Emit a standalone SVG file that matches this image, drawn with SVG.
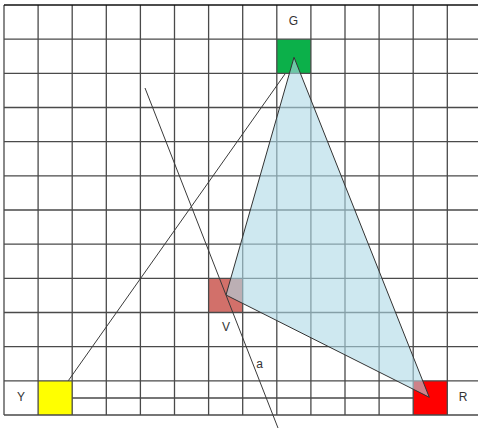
<svg xmlns="http://www.w3.org/2000/svg" width="478" height="428" viewBox="0 0 478 428">
<style>
.grid{fill:none;stroke:#4a4a4a;stroke-width:1.3}
.lbl{font-family:"Liberation Sans",Arial,sans-serif;font-size:12px;fill:#333;text-anchor:middle}
.conn{fill:none;stroke:#3a3a3a;stroke-width:1}
.sq{stroke:none}
</style>
<rect width="478" height="428" fill="#fff"/>
<g id="node-Y"><rect class="sq" x="38.1" y="380.9" width="34.1" height="34.1" fill="#ffff00"/><text class="lbl" x="21" y="401">Y</text></g>
<g id="node-G"><rect class="sq" x="276.8" y="39.2" width="34.1" height="34.2" fill="#0cb04a"/><text class="lbl" x="293.5" y="25">G</text></g>
<g id="node-V"><rect class="sq" x="208.6" y="278.4" width="34.1" height="34.1" fill="#d2706a"/><text class="lbl" x="226" y="331">V</text></g>
<g id="node-R"><rect class="sq" x="413.2" y="380.9" width="34.1" height="34.1" fill="#ff0000"/><text class="lbl" x="463" y="401">R</text></g>
<g id="grid">
<path class="grid" d="M4 5V415M38.1 5V415M72.2 5V415M106.3 5V415M140.4 5V415M174.5 5V415M208.6 5V415M242.7 5V415M276.8 5V415M310.9 5V415M345 5V415M379.1 5V415M413.2 5V415M447.3 5V415"/>
<path class="grid" d="M4 39.2H478M4 73.3H478M4 107.5H478M4 141.7H478M4 175.9H478M4 210H478M4 244.2H478M4 278.4H478M4 312.5H478M4 346.7H478M4 380.9H478M4 415H478M72.2 398H413.2"/>
<path d="M4 5H478" stroke="#111" stroke-width="1.3"/>
</g>
<g id="triangle"><polygon points="294,57.3 226,295 429.3,397.3" fill="#add8e6" fill-opacity="0.6" stroke="#333" stroke-width="1"/></g>
<g id="connectors">
<line class="conn" x1="68.3" y1="380.7" x2="285" y2="74"/>
<line class="conn" x1="145" y1="88" x2="278" y2="428"/>
<text class="lbl" x="259.5" y="368">a</text>
</g>
</svg>
